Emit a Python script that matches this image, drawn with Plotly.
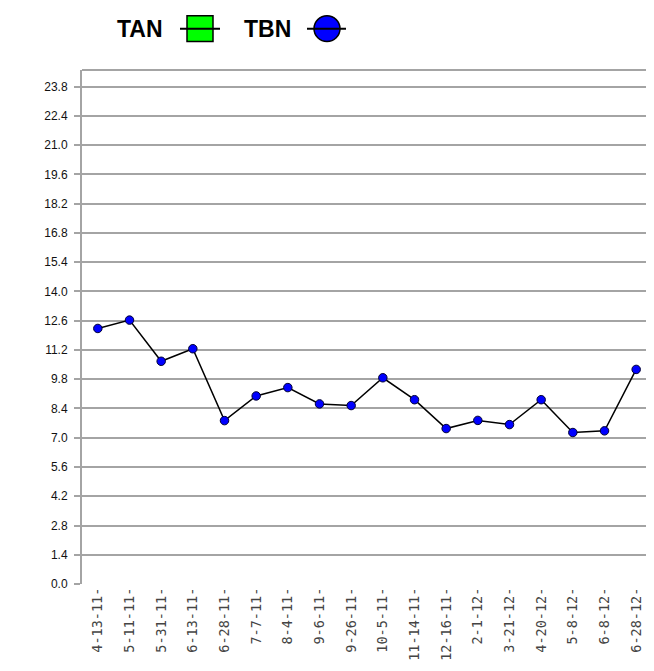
import plotly.graph_objects as go

dates = ["4-13-11-", "5-11-11-", "5-31-11-", "6-13-11-", "6-28-11-", "7-7-11-",
         "8-4-11-", "9-6-11-", "9-26-11-", "10-5-11-", "11-14-11-", "12-16-11-",
         "2-1-12-", "3-21-12-", "4-20-12-", "5-8-12-", "6-8-12-", "6-28-12-"]
tbn = [12.23, 12.63, 10.66, 11.26, 7.82, 9.0, 9.4, 8.62, 8.54,
       9.87, 8.82, 7.44, 7.83, 7.63, 8.82, 7.25, 7.33, 10.27]
tan = []

OFF = 8  # default page body margin
W, H = 654 - OFF, 671 - 2 * OFF
L, T = 82 - OFF, 70 - OFF
R = W - (652 - OFF)
B = H - (592 - OFF)
PW, PH = W - L - R, H - T - B

def px(x):
    return (x - OFF - L) / PW

def py(y):
    return (H - B - (y - OFF)) / PH

fig = go.Figure()
fig.add_trace(go.Scatter(x=[], y=tan, name="TAN", mode="lines+markers",
                         showlegend=False,
                         marker=dict(symbol="square", color="#00ff00", size=10,
                                     line=dict(color="black", width=1)),
                         line=dict(color="black", width=1.5)))
fig.add_trace(go.Scatter(x=dates, y=tbn, name="TBN", mode="lines+markers",
                         showlegend=False,
                         marker=dict(symbol="circle", color="#0000ff", size=8.5,
                                     line=dict(color="#000033", width=1)),
                         line=dict(color="black", width=1.5)))

grid = "#a4a4a4"
fig.update_layout(
    width=W, height=H,
    margin=dict(l=L, r=R, t=T, b=B, pad=0),
    plot_bgcolor="white", paper_bgcolor="white",
    showlegend=False,
    xaxis=dict(type="category", range=[-0.5, len(dates) - 0.5],
               showgrid=False, showline=False, zeroline=False,
               ticks="", tickangle=-90,
               tickfont=dict(family="DejaVu Sans Mono", size=13.5, color="#444444")),
    yaxis=dict(range=[0, 24.6], tick0=0, dtick=1.4, tickformat=".1f",
               showgrid=True, gridcolor=grid, gridwidth=2,
               zeroline=True, zerolinecolor="rgba(0,0,0,0)",
               showline=True, linecolor=grid, linewidth=2,
               ticks="outside", ticklen=6, tickcolor=grid, tickwidth=2,
               ticklabelstandoff=4,
               tickfont=dict(family="Liberation Sans", size=12, color="#111111")),
)

# top frame line
fig.add_shape(type="line", xref="paper", yref="paper", x0=0, x1=1, y0=1, y1=1,
              line=dict(color=grid, width=2))

# legend (custom: text then symbol)
ly = 28
fig.add_annotation(text="<b>TAN</b>", x=px(115), y=py(ly), xref="paper", yref="paper",
                   xanchor="left", yanchor="middle", showarrow=False,
                   font=dict(family="Liberation Sans", size=23, color="black"))
fig.add_annotation(text="<b>TBN</b>", x=px(242), y=py(ly), xref="paper", yref="paper",
                   xanchor="left", yanchor="middle", showarrow=False,
                   font=dict(family="Liberation Sans", size=23, color="black"))
fig.add_shape(type="rect", xref="paper", yref="paper",
              x0=px(187), x1=px(213), y0=py(15), y1=py(41),
              fillcolor="#00ff00", line=dict(color="black", width=1.5))
fig.add_shape(type="line", xref="paper", yref="paper",
              x0=px(180), x1=px(220), y0=py(ly), y1=py(ly),
              line=dict(color="black", width=2))
fig.add_shape(type="circle", xref="paper", yref="paper",
              x0=px(314), x1=px(340), y0=py(15), y1=py(41),
              fillcolor="#0000ff", line=dict(color="black", width=1.5))
fig.add_shape(type="line", xref="paper", yref="paper",
              x0=px(307), x1=px(346), y0=py(ly), y1=py(ly),
              line=dict(color="black", width=2))

fig.write_html("out.html")
